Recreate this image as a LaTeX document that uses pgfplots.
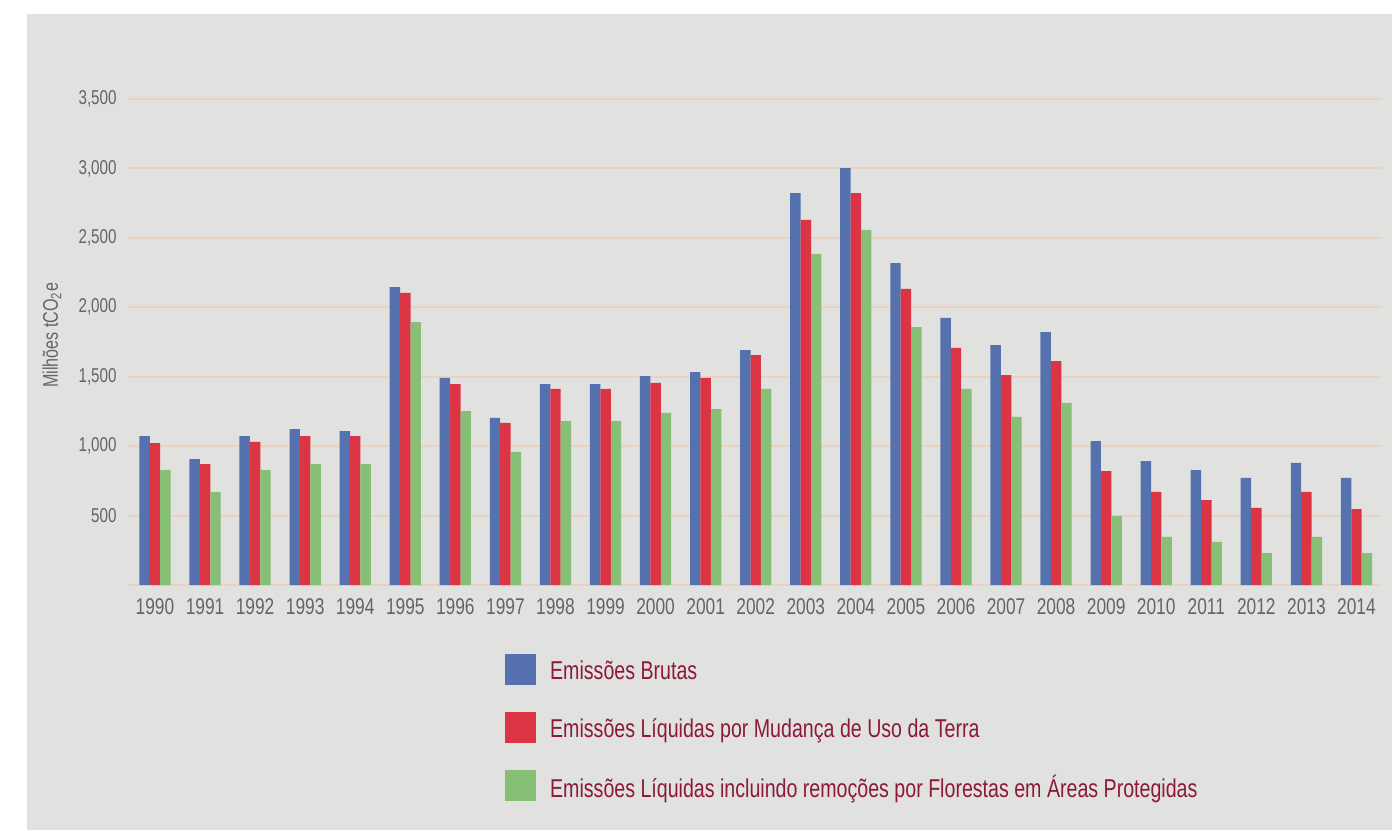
\documentclass[border=0pt]{standalone}
\usepackage{fontspec}
\setmainfont{Liberation Sans}[FakeStretch=0.76]
\usepackage{pgfplots}
\pgfplotsset{compat=1.18}
\usepackage{pgfplotstable}

\definecolor{fundo}{RGB}{225,225,224}
\definecolor{grade}{RGB}{235,210,190}
\definecolor{azul}{RGB}{85,114,174}
\definecolor{vermelho}{RGB}{219,52,68}
\definecolor{verde}{RGB}{134,191,117}
\definecolor{cinza}{RGB}{100,100,100}
\definecolor{vinho}{RGB}{140,25,60}

% Milhoes tCO2e
\pgfplotstableread{
idx year bruta liquida protegida
0 1990 1073 1022 828
1 1991 907 871 670
2 1992 1073 1030 828
3 1993 1123 1073 871
4 1994 1109 1073 871
5 1995 2146 2103 1894
6 1996 1491 1447 1253
7 1997 1203 1167 958
8 1998 1447 1412 1181
9 1999 1447 1412 1181
10 2000 1505 1455 1239
11 2001 1534 1491 1267
12 2002 1692 1656 1412
13 2003 2823 2629 2384
14 2004 3003 2823 2557
15 2005 2319 2132 1858
16 2006 1923 1707 1412
17 2007 1728 1512 1210
18 2008 1822 1613 1311
19 2009 1037 821 497
20 2010 893 670 346
21 2011 828 612 310
22 2012 771 555 230
23 2013 879 670 346
24 2014 771 547 230
}\emissoes

\begin{document}
\begin{tikzpicture}
\fill[white] (0pt,0pt) rectangle (696pt,-415pt);
\fill[fundo] (13.5pt,-7pt) rectangle (696pt,-415pt);
\begin{axis}[
  at={(63.5pt,-292.5pt)}, anchor=south west,
  scale only axis, width=627.5pt, height=243pt,
  xmin=-0.559, xmax=24.51, ymin=0, ymax=3500,
  ybar, bar width=0.208,
  axis line style={draw=none}, major tick length=0pt,
  xtick=data, xticklabels from table={\emissoes}{year},
  ytick={0,500,...,3500},
  yticklabels={,500,{1,000},{1,500},{2,000},{2,500},{3,000},{3,500}},
  ymajorgrids, major grid style={grade, line width=1pt},
  xticklabel style={anchor=north, inner sep=0pt, yshift=-6.5pt, text=cinza,
    font=\fontsize{11.4}{13}\selectfont},
  yticklabel style={inner sep=0pt, xshift=-5pt, text=cinza,
    font=\fontsize{10}{12}\selectfont},
  ylabel={Milhões tCO\textsubscript{2}e},
  ylabel style={at={(axis description cs:-0.0598,0.514)}, anchor=center,
    text=cinza, font=\fontsize{10.6}{12}\selectfont},
  legend image code/.code={\fill[#1, draw=none] (0pt,-6.85pt) rectangle (15.5pt,8.65pt);},
  legend cell align=left,
  legend style={at={(axis description cs:0.301,-0.142)}, anchor=north west,
    draw=none, fill=none, inner sep=0pt, row sep=13.5pt, column sep=7pt,
    font=\fontsize{12.9}{14}\selectfont, nodes={inner sep=0pt, text=vinho}},
]
\addplot[fill=azul, draw=none, bar shift=-0.208] table[x=idx, y=bruta] {\emissoes};
\addplot[fill=vermelho, draw=none, bar shift=0] table[x=idx, y=liquida] {\emissoes};
\addplot[fill=verde, draw=none, bar shift=0.208] table[x=idx, y=protegida] {\emissoes};
\legend{Emissões Brutas,
  Emissões Líquidas por Mudança de Uso da Terra,
  Emissões Líquidas incluindo remoções por Florestas em Áreas Protegidas}
\end{axis}
\end{tikzpicture}
\end{document}
